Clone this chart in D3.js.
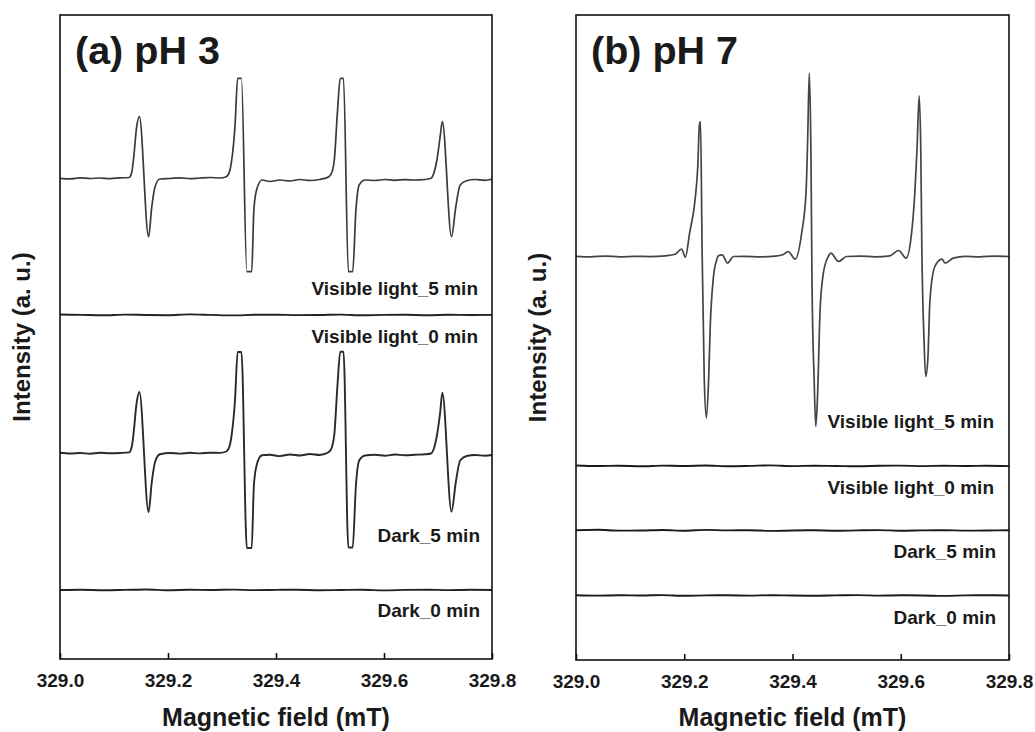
<!DOCTYPE html>
<html>
<head>
<meta charset="utf-8">
<script src="https://cdn.jsdelivr.net/npm/d3@7"></script>
<style>
  body { margin: 0; background: #fff; }
  svg text { font-family: "Liberation Sans", Arial, sans-serif; font-weight: bold; fill: #1a1a1a; }
</style>
</head>
<body>
<svg id="chart" width="1035" height="732"></svg>
<script>
// tick labels / series names
const fieldTicks = [329.0, 329.2, 329.4, 329.6, 329.8];
const seriesNames = ["Visible light_5 min", "Visible light_0 min", "Dark_5 min", "Dark_0 min"];
const panelTitles = ["(a) pH 3", "(b) pH 7"];

// field grid used by the flat (no signal) traces
const fieldGrid = [329.00, 329.04, 329.08, 329.12, 329.16, 329.20, 329.24, 329.28, 329.32, 329.36,
  329.40, 329.44, 329.48, 329.52, 329.56, 329.60, 329.64, 329.68, 329.72, 329.76, 329.80];

// ---- (a) pH 3 ----
const offsetsA = [96.2, 68.8, 41.2, 13.8];
const vis5A = [
  [329.000, -0.06], [329.019, -0.16], [329.037, 0.04], [329.056, -0.10], [329.074, 0.00],
  [329.093, -0.12], [329.111, 0.02], [329.128, 0.10], [329.133, 1.2], [329.136, 3.6], [329.142, 10.26],
  [329.147, 12.26], [329.164, -11.74], [329.170, -5.74], [329.176, -1.74], [329.185, -0.20],
  [329.204, -0.10], [329.222, 0.04], [329.241, -0.14], [329.259, 0.00], [329.278, 0.10],
  [329.296, 0.00], [329.308, 0.26], [329.314, 1.3], [329.318, 3.6], [329.324, 10.26], [329.329, 19.94],
  [329.336, 19.94], [329.346, -18.74], [329.355, -18.74], [329.359, -6.4], [329.364, -2.4],
  [329.374, -0.40], [329.389, -0.70], [329.407, -0.40], [329.426, -0.60], [329.444, -0.30],
  [329.463, -0.50], [329.481, -0.30], [329.498, 0.26], [329.504, 1.3], [329.508, 3.6], [329.514, 13.6],
  [329.519, 19.94], [329.525, 19.94], [329.534, -18.74], [329.542, -18.74], [329.548, -6.4],
  [329.554, -1.4], [329.565, -0.40], [329.583, -0.50], [329.602, -0.30], [329.620, -0.46],
  [329.639, -0.32], [329.657, -0.40], [329.676, -0.30], [329.687, -0.06], [329.693, 1.2], [329.698, 3.6],
  [329.704, 8.26], [329.708, 11.26], [329.725, -11.74], [329.733, -5.74], [329.741, -1.4],
  [329.753, -0.54], [329.769, -0.30], [329.787, -0.46], [329.800, -0.20]
];
const vis0A = [0.10, 0.02, -0.06, 0.08, 0.00, -0.04, 0.12, 0.02, -0.08, 0.04, 0.06,
  -0.02, 0.00, 0.08, -0.06, 0.02, 0.04, -0.04, 0.06, 0.00, 0.02];
const dark5A = [
  [329.000, 0.06], [329.019, -0.10], [329.037, 0.00], [329.056, -0.14], [329.074, 0.04],
  [329.093, -0.06], [329.111, 0.00], [329.128, 0.12], [329.133, 1.3], [329.136, 3.7], [329.142, 10.1],
  [329.147, 12.2], [329.164, -11.8], [329.170, -5.8], [329.176, -1.8], [329.185, -0.24],
  [329.204, 0.00], [329.222, -0.12], [329.241, 0.04], [329.259, -0.08], [329.278, 0.06],
  [329.296, 0.02], [329.308, 0.30], [329.314, 1.4], [329.318, 3.7], [329.324, 10.4], [329.329, 20.2],
  [329.336, 20.2], [329.346, -19.0], [329.355, -19.0], [329.359, -6.6], [329.364, -2.5],
  [329.374, -0.46], [329.389, -0.36], [329.407, -0.62], [329.426, -0.30], [329.444, -0.50],
  [329.463, -0.20], [329.481, -0.40], [329.498, 0.20], [329.504, 1.3], [329.508, 3.7], [329.514, 13.8],
  [329.519, 20.26], [329.525, 20.26], [329.534, -18.9], [329.542, -18.9], [329.548, -6.5],
  [329.554, -1.5], [329.565, -0.50], [329.583, -0.36], [329.602, -0.54], [329.620, -0.30],
  [329.639, -0.46], [329.657, -0.36], [329.676, -0.26], [329.687, -0.10], [329.693, 1.1], [329.698, 3.5],
  [329.704, 8.1], [329.708, 12.06], [329.725, -11.74], [329.733, -5.8], [329.741, -1.5],
  [329.753, -0.60], [329.769, -0.40], [329.787, -0.56], [329.800, -0.40]
];
const dark0A = [0.00, 0.06, -0.04, 0.02, 0.10, -0.06, 0.04, 0.00, 0.08, -0.02, 0.02,
  0.06, -0.04, 0.00, 0.04, -0.08, 0.02, 0.06, -0.02, 0.04, 0.00];

// ---- (b) pH 7 ----
const offsetsB = [80.7, 38.8, 25.9, 12.9];
const vis5B = [
  [329.000, 0.04], [329.026, -0.06], [329.054, 0.08], [329.081, -0.06], [329.109, 0.04],
  [329.137, -0.02], [329.165, 0.14], [329.183, 0.44], [329.195, 1.48], [329.202, -0.12],
  [329.210, 4.74], [329.220, 11.34], [329.225, 18.0], [329.228, 26.34], [329.230, 27.0],
  [329.233, 1.34], [329.237, -24.66], [329.241, -32.32], [329.245, -24.66], [329.248, -14.0],
  [329.254, -4.0], [329.260, -0.66], [329.263, 0.14], [329.270, 0.34], [329.280, -1.32],
  [329.291, 0.00], [329.312, 0.04], [329.340, -0.06], [329.368, 0.08], [329.382, 0.34],
  [329.392, 1.0], [329.405, -0.52], [329.417, 4.74], [329.425, 12.74], [329.428, 23.34],
  [329.431, 36.68], [329.434, 21.34], [329.436, -4.66], [329.440, -24.66], [329.443, -34.0],
  [329.446, -28.66], [329.451, -10.66], [329.457, -3.32], [329.466, 0.00], [329.471, 0.68],
  [329.485, -1.0], [329.500, 0.00], [329.525, 0.08], [329.553, -0.06], [329.580, 0.14],
  [329.596, 1.2], [329.610, -0.32], [329.620, 4.68], [329.626, 12.68], [329.630, 21.34],
  [329.634, 32.14], [329.637, 21.34], [329.639, 1.34], [329.643, -16.66], [329.646, -24.0],
  [329.650, -20.66], [329.654, -8.66], [329.663, -2.0], [329.676, -0.52], [329.682, -1.32],
  [329.697, -0.32], [329.719, 0.04], [329.746, -0.06], [329.774, 0.08], [329.800, 0.00]
];
const vis0B = [0.10, 0.00, 0.04, -0.06, 0.08, 0.00, 0.10, -0.04, 0.02, 0.12, -0.02,
  0.06, 0.00, -0.06, 0.04, 0.08, -0.02, 0.06, 0.00, 0.04, -0.02];
const dark5B = [0.04, 0.14, -0.02, 0.00, 0.10, -0.04, 0.12, 0.02, 0.06, -0.08, 0.00,
  0.04, -0.06, 0.02, 0.08, -0.04, 0.02, 0.06, -0.02, 0.00, 0.04];
const dark0B = [0.06, -0.02, 0.04, 0.00, 0.08, -0.06, 0.02, 0.04, -0.02, 0.06, 0.00,
  -0.04, 0.02, 0.08, -0.02, 0.04, 0.00, -0.08, 0.02, 0.04, 0.00];

const onGrid = vals => fieldGrid.map((f, i) => [f, vals[i]]);

// layout
const panels = [
  {
    box: { x0: 60, x1: 492, y0: 15, y1: 659 }, yMax: 128.8,
    title: panelTitles[0], titleX: 75, ylabX: 30,
    traces: [vis5A, onGrid(vis0A), dark5A, onGrid(dark0A)], offsets: offsetsA,
    labelRight: [478, 478, 480, 480], labelY: [295, 342.5, 541.5, 616.5],
    color: ["#3a3a3a", "#222", "#2a2a2a", "#222"]
  },
  {
    box: { x0: 576, x1: 1009, y0: 15, y1: 660 }, yMax: 129,
    title: panelTitles[1], titleX: 591, ylabX: 546,
    traces: [vis5B, onGrid(vis0B), onGrid(dark5B), onGrid(dark0B)], offsets: offsetsB,
    labelRight: [994, 994, 996, 996], labelY: [427.5, 494, 557.5, 623.5],
    color: ["#444", "#1a1a1a", "#1a1a1a", "#1a1a1a"]
  }
];

const svg = d3.select("#chart");

panels.forEach((p) => {
  const b = p.box;
  const x = d3.scaleLinear().domain([329.0, 329.8]).range([b.x0, b.x1]);
  const y = d3.scaleLinear().domain([0, p.yMax]).range([b.y1, b.y0]);
  const g = svg.append("g");

  const line = d3.line().x(d => x(d[0])).y(d => y(d[1])).curve(d3.curveMonotoneX);
  p.traces.forEach((t, i) => {
    const pts = t.map(d => [d[0], d[1] + p.offsets[i]]);
    g.append("path")
      .attr("d", line(pts))
      .attr("fill", "none")
      .attr("stroke", p.color[i])
      .attr("stroke-width", i === 0 ? 1.7 : 1.9)
      .attr("stroke-linejoin", "round");
    g.append("text")
      .attr("x", p.labelRight[i])
      .attr("y", p.labelY[i])
      .attr("text-anchor", "end")
      .attr("font-size", 19)
      .text(seriesNames[i]);
  });

  // frame
  g.append("rect")
    .attr("x", b.x0).attr("y", b.y0)
    .attr("width", b.x1 - b.x0).attr("height", b.y1 - b.y0)
    .attr("fill", "none").attr("stroke", "#111").attr("stroke-width", 1.6);

  // bottom axis, ticks pointing inward
  const ax = g.append("g")
    .attr("transform", `translate(0,${b.y1})`)
    .call(d3.axisBottom(x).tickValues(fieldTicks).tickFormat(d3.format(".1f"))
      .tickSizeInner(-6).tickSizeOuter(0).tickPadding(15));
  ax.select(".domain").remove();
  ax.selectAll(".tick line").attr("stroke", "#111").attr("stroke-width", 1.6);
  ax.selectAll(".tick text").attr("font-size", 19).attr("fill", "#1a1a1a")
    .attr("font-family", "'Liberation Sans', Arial, sans-serif").attr("font-weight", "bold");

  g.append("text")
    .attr("x", (b.x0 + b.x1) / 2)
    .attr("y", 726)
    .attr("text-anchor", "middle")
    .attr("font-size", 25)
    .text("Magnetic field (mT)");

  g.append("text")
    .attr("transform", `translate(${p.ylabX},${(b.y0 + b.y1) / 2}) rotate(-90)`)
    .attr("text-anchor", "middle")
    .attr("font-size", 24)
    .text("Intensity (a. u.)");

  g.append("text")
    .attr("x", p.titleX)
    .attr("y", 64)
    .attr("font-size", 39.5)
    .text(p.title);
});
</script>
</body>
</html>
